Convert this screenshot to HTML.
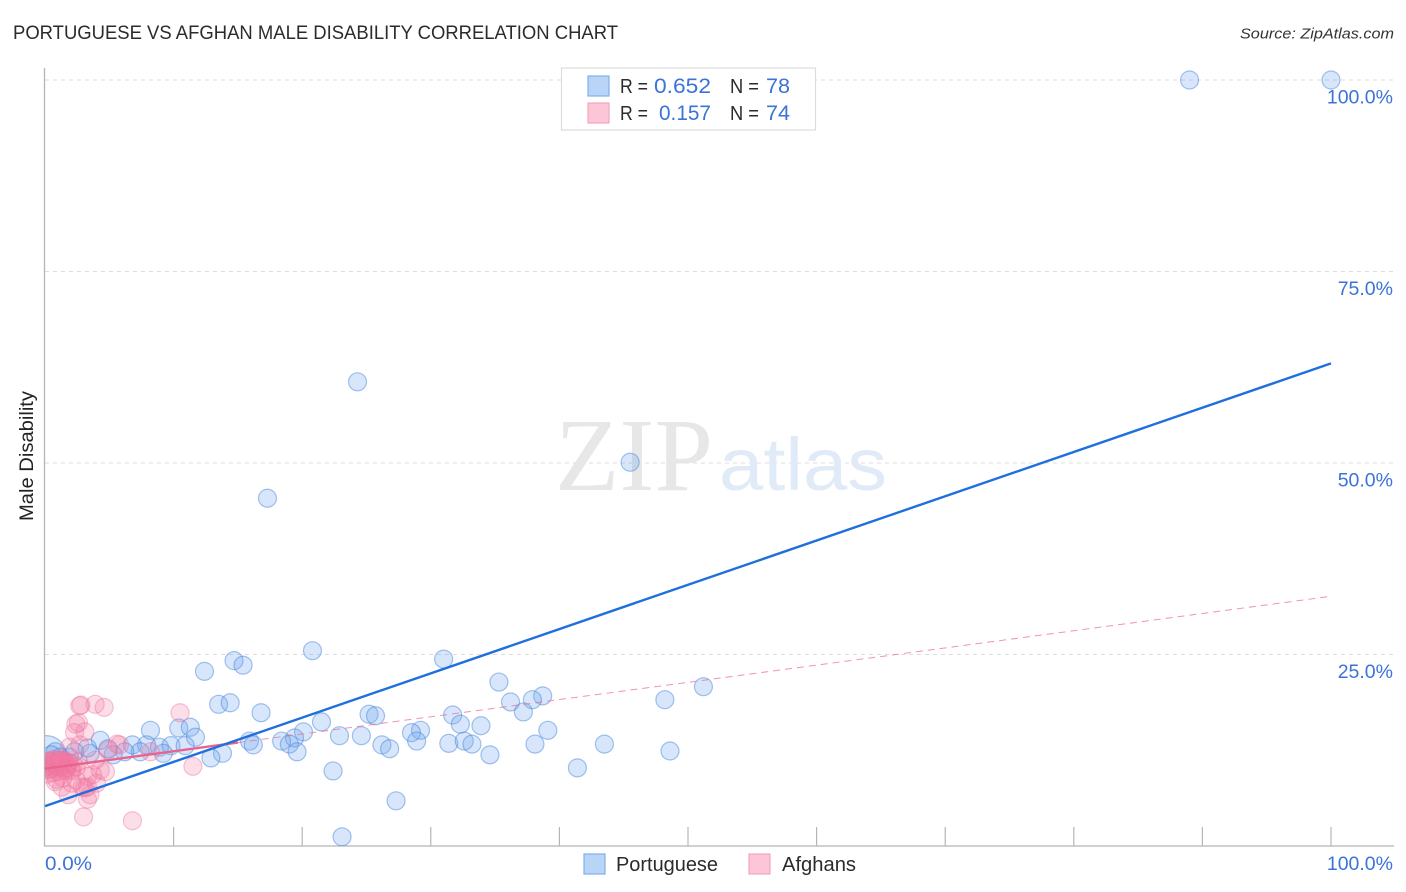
<!DOCTYPE html>
<html lang="en">
<head>
<meta charset="utf-8">
<title>Portuguese vs Afghan Male Disability Correlation Chart</title>
<style>
html,body{margin:0;padding:0;background:#fff;}
svg{display:block;font-family:"Liberation Sans",sans-serif;}
</style>
</head>
<body>
<svg id="chart" xmlns="http://www.w3.org/2000/svg" width="1406" height="892" viewBox="0 0 1406 892">
  <defs><clipPath id="plot-clip"><rect x="45" y="60" width="1350" height="786"/></clipPath></defs>
  <text x="13" y="39" font-size="19.5" fill="#2b2b2b" textLength="605" lengthAdjust="spacingAndGlyphs">PORTUGUESE VS AFGHAN MALE DISABILITY CORRELATION CHART</text>
  <text x="1394" y="38.5" font-size="15" font-style="italic" fill="#333" text-anchor="end" textLength="154" lengthAdjust="spacingAndGlyphs">Source: ZipAtlas.com</text>
  <text transform="translate(33,456) rotate(-90)" font-size="19" fill="#222" text-anchor="middle" textLength="130" lengthAdjust="spacingAndGlyphs">Male Disability</text>
  <g id="grid"></g>
  <g>
    <text x="555" y="490" font-family="'Liberation Serif',serif" font-size="104" fill="#e7e7e7" textLength="158" lengthAdjust="spacingAndGlyphs">ZIP</text>
    <text x="719" y="490" font-size="74" fill="#e1ebf8" textLength="168" lengthAdjust="spacingAndGlyphs">atlas</text>
  </g>
  <g id="axes"></g>
  <g id="points-portuguese" clip-path="url(#plot-clip)"></g>
  <g id="points-afghans" clip-path="url(#plot-clip)"></g>
  <g id="trends"></g>
  <g id="tick-labels"></g>

  <g>
    <rect x="561.5" y="68" width="254" height="62" fill="#fff" stroke="#dcdcdc" stroke-width="1.2"/>
    <rect x="588" y="76" width="21" height="20" fill="#b8d4f7" stroke="#7fb0ea" stroke-width="1.2"/>
    <rect x="588" y="103" width="21" height="20" fill="#fcc5d8" stroke="#f3a5bf" stroke-width="1.2"/>
    <g font-size="20">
      <text x="620" y="93" fill="#2b2b2b" textLength="28" lengthAdjust="spacingAndGlyphs">R =</text>
      <text x="654" y="93" fill="#3b73d8" font-size="21" textLength="57" lengthAdjust="spacingAndGlyphs">0.652</text>
      <text x="730" y="93" fill="#2b2b2b" textLength="29" lengthAdjust="spacingAndGlyphs">N =</text>
      <text x="766" y="93" fill="#3b73d8" font-size="21" textLength="24" lengthAdjust="spacingAndGlyphs">78</text>
      <text x="620" y="120" fill="#2b2b2b" textLength="28" lengthAdjust="spacingAndGlyphs">R =</text>
      <text x="659" y="120" fill="#3b73d8" font-size="21" textLength="52" lengthAdjust="spacingAndGlyphs">0.157</text>
      <text x="730" y="120" fill="#2b2b2b" textLength="29" lengthAdjust="spacingAndGlyphs">N =</text>
      <text x="766" y="120" fill="#3b73d8" font-size="21" textLength="24" lengthAdjust="spacingAndGlyphs">74</text>
    </g>
  </g>

  <g>
    <rect x="584" y="854" width="21" height="20" fill="#b8d4f7" stroke="#7fb0ea" stroke-width="1.2"/>
    <text x="616" y="871" font-size="20" fill="#2b2b2b" textLength="102" lengthAdjust="spacingAndGlyphs">Portuguese</text>
    <rect x="749" y="854" width="21" height="20" fill="#fcc5d8" stroke="#f3a5bf" stroke-width="1.2"/>
    <text x="782" y="871" font-size="20" fill="#2b2b2b" textLength="74" lengthAdjust="spacingAndGlyphs">Afghans</text>
  </g>
</svg>
<script>
const portugueseX = [89.0,100,24.3,45.5,17.3,20.8,14.7,15.4,12.4,31.0,51.2,35.3,38.7,37.9,36.2,48.2,37.2,13.5,14.4,16.8,25.2,25.7,31.7,21.5,32.3,33.9,8.2,10.4,11.3,29.2,28.5,39.1,20.1,11.7,22.9,24.6,28.9,19.4,18.4,19.0,15.9,16.2,26.2,26.8,31.4,32.6,33.2,38.1,43.5,48.6,19.6,34.6,13.8,12.9,22.4,41.4,27.3,23.1,4.3,6.8,7.9,8.9,9.8,10.9,9.2,7.4,6.2,5.3,4.9,3.5,3.3,1.9,0.8,1.2,2.3,0.4,0.5];
const portugueseY = [100,100,60.6,50.1,45.4,25.5,24.2,23.6,22.8,24.4,20.8,21.4,19.6,19.1,18.8,19.1,17.5,18.5,18.7,17.4,17.2,17.0,17.1,16.2,15.9,15.7,15.1,15.4,15.5,15.1,14.8,15.1,14.9,14.2,14.4,14.4,13.7,14.1,13.7,13.3,13.7,13.2,13.2,12.7,13.4,13.7,13.3,13.3,13.3,12.4,12.3,11.9,12.1,11.5,9.8,10.2,5.9,1.2,13.8,13.2,13.2,12.9,13.1,13.1,12.1,12.3,12.3,11.9,12.7,12.1,12.8,11.6,12.3,11.6,12.3,10.6,11.9];
const portugueseHeavyX = [0.1];
const portugueseHeavyY = [11.8];
const afghansX = [6.8,3.0,3.3,3.5,1.8,3.1,2.9,3.3,2.1,0.8,2.8,2.7,3.9,4.6,2.6,2.4,2.3,3.1,10.5,11.5,5.6,5.8,8.2,1.9,2.7,4.3,4.7,3.7,3.3,4.0,2.4,1.3,3.9,4.9,0.2,0.3,0.4,0.5,0.6,0.7,0.8,0.9,1.0,1.1,1.2,1.3,1.4,1.5,1.6,1.7,1.8,2.0,2.2,0.3,0.5,0.7,0.9,1.1,1.3,1.5,1.7,1.9,2.1,0.4,0.6,0.8,1.0,1.2,1.4,1.6,2.4,2.6,0.2,0.9];
const afghansY = [3.3,3.8,6.1,6.7,6.7,7.6,7.7,7.7,8.2,8.4,18.4,18.3,18.5,18.1,16.1,15.9,14.8,14.9,17.4,10.4,13.3,13.2,12.3,12.9,13.2,9.9,9.7,9.3,9.1,8.2,8.6,7.7,11.2,12.5,10.4,11.0,10.1,11.2,10.6,10.2,11.1,10.4,10.9,10.3,11.2,10.5,10.8,11.1,10.2,10.6,10.9,10.0,10.7,10.0,10.9,11.3,10.5,10.1,10.3,11.0,10.2,10.8,9.8,11.0,9.6,10.7,9.7,11.2,8.9,9.9,10.3,11.0,9.4,8.7];
const portugueseTrendX = [0,100];
const portugueseTrendY = [5.2,63.0];
const afghansSolidX = [0,15.0];
const afghansSolidY = [10.1,13.5];
const afghansDashedX = [15.0,100];
const afghansDashedY = [13.5,32.6];
const yTicks = [100,75,50,25];
const yTickLabels = ["100.0%","75.0%","50.0%","25.0%"];
const xTicks = [0,10,20,30,40,50,60,70,80,90,100];
const xEndLabels = ["0.0%","100.0%"];

const NS = "http://www.w3.org/2000/svg";
function xScale(v){ return 45 + v * 12.86; }
function yScale(v){ return 846 - v * 7.66; }
function make(parent, tag, attrs){
  const el = document.createElementNS(NS, tag);
  for (const k in attrs) el.setAttribute(k, attrs[k]);
  parent.appendChild(el);
  return el;
}

const grid = document.getElementById("grid");
yTicks.forEach(function(t){
  const g = make(grid, "line", {x1:45, x2:1393, y1:yScale(t), y2:yScale(t), stroke:"#dcdcdc", "stroke-width":1, "stroke-dasharray":"4 4"});
  
  
});

const axes = document.getElementById("axes");
const yAxis = make(axes, "line", {x1:44.5, x2:44.5, y1:68, y2:846, stroke:"#b5b5b5", "stroke-width":1.3});


const xAxis = make(axes, "line", {x1:44, x2:1394, y1:846, y2:846, stroke:"#b5b5b5", "stroke-width":1.3});


xTicks.slice(1).forEach(function(t){
  const tick = make(axes, "line", {x1:xScale(t), x2:xScale(t), y1:827, y2:846, stroke:"#b5b5b5", "stroke-width":1.2});
  
  
});

function drawPoints(groupId, xs, ys, fill, stroke, r, name){
  const group = document.getElementById(groupId);
  xs.forEach(function(x, i){
    const c = make(group, "circle", {cx:xScale(x), cy:yScale(ys[i]), r:r, fill:fill, stroke:stroke, "stroke-width":1.2});
    
    
  });
}
const blueFill = "rgba(110,165,240,0.28)", blueStroke = "rgba(60,125,215,0.45)";
const pinkFill = "rgba(245,125,165,0.25)", pinkStroke = "rgba(238,115,155,0.42)";
drawPoints("points-portuguese", portugueseHeavyX, portugueseHeavyY, blueFill, blueStroke, 20, "portuguese-large-point");
drawPoints("points-portuguese", portugueseX, portugueseY, blueFill, blueStroke, 9, "portuguese-point");
drawPoints("points-afghans", afghansX, afghansY, pinkFill, pinkStroke, 9, "afghans-point");

const trends = document.getElementById("trends");
const dashTrend = make(trends, "line", {x1:xScale(afghansDashedX[0]), y1:yScale(afghansDashedY[0]), x2:xScale(afghansDashedX[1]), y2:yScale(afghansDashedY[1]), stroke:"#ec6f97", "stroke-width":1, "stroke-dasharray":"7 5", opacity:0.75});


const pinkTrend = make(trends, "line", {x1:xScale(afghansSolidX[0]), y1:yScale(afghansSolidY[0]), x2:xScale(afghansSolidX[1]), y2:yScale(afghansSolidY[1]), stroke:"#e8648f", "stroke-width":2.4});


const blueTrend = make(trends, "line", {x1:xScale(portugueseTrendX[0]), y1:yScale(portugueseTrendY[0]), x2:xScale(portugueseTrendX[1]), y2:yScale(portugueseTrendY[1]), stroke:"#1f6fdc", "stroke-width":2.4});



const labels = document.getElementById("tick-labels");
yTicks.forEach(function(t, i){
  const txt = make(labels, "text", {x:1393, y:yScale(t)+23.5, "font-size":19.5, fill:"#3b73d8", "text-anchor":"end"});
  txt.textContent = yTickLabels[i];
  
  
});
const x0 = make(labels, "text", {x:45, y:870, "font-size":19.5, fill:"#3b73d8", textLength:47, lengthAdjust:"spacingAndGlyphs"});
x0.textContent = xEndLabels[0];


const x1 = make(labels, "text", {x:1393, y:870, "font-size":19.5, fill:"#3b73d8", "text-anchor":"end"});
x1.textContent = xEndLabels[1];


</script>
</body>
</html>
